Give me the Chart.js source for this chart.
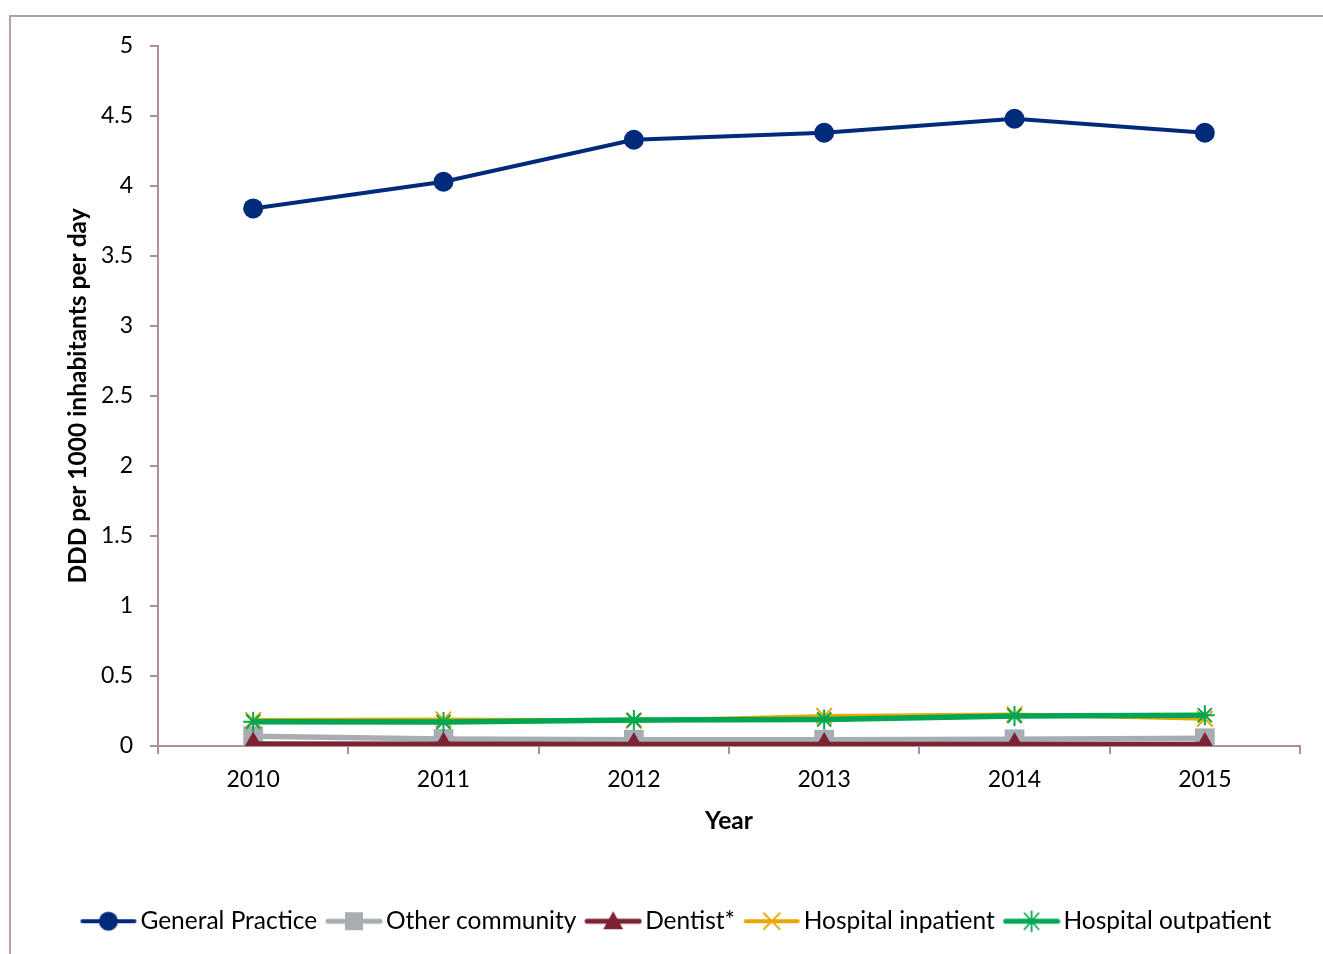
<!DOCTYPE html>
<html>
<head>
<meta charset="utf-8">
<script src="https://cdn.jsdelivr.net/npm/chart.js@4"></script>
<style>
  html, body { margin: 0; padding: 0; background: #fff; }
  #wrap { position: relative; width: 1323px; height: 954px; }
  #frame { position: absolute; left: 9px; top: 15px; width: 1400px; height: 1000px;
           border-top: 2px solid #b99ea4; border-left: 2px solid #b99ea4; box-sizing: border-box; }
  canvas { position: absolute; left: 0; top: 0; }
</style>
</head>
<body>
<div id="wrap">
  <div id="frame"></div>
  <canvas id="c" width="1323" height="954"></canvas>
</div>
<script>
const years = ['2010', '2011', '2012', '2013', '2014', '2015'];
const generalPractice = [3.84, 4.03, 4.33, 4.38, 4.48, 4.38];
const otherCommunity = [0.07, 0.05, 0.045, 0.045, 0.048, 0.055];
const dentist = [0.015, 0.012, 0.01, 0.01, 0.01, 0.01];
const hospitalInpatient = [0.185, 0.19, 0.18, 0.215, 0.225, 0.195];
const hospitalOutpatient = [0.174, 0.172, 0.185, 0.19, 0.215, 0.22];
const yTicks = [0, 0.5, 1, 1.5, 2, 2.5, 3, 3.5, 4, 4.5, 5];

const FONT = 'Lato, "Open Sans", sans-serif';
const AXIS = '#b38d95';

function legendIcon(color, lineW, drawMarker) {
  const c = document.createElement('canvas');
  c.width = 58; c.height = 24;
  const g = c.getContext('2d');
  g.strokeStyle = color; g.lineWidth = lineW; g.lineCap = 'round';
  g.beginPath(); g.moveTo(3, 12); g.lineTo(55, 12); g.stroke();
  drawMarker(g, 29, 12);
  return c;
}
const icons = [
  legendIcon('#012a7a', 4, (g, x, y) => { g.fillStyle = '#012a7a'; g.beginPath(); g.arc(x, y, 9.5, 0, Math.PI * 2); g.fill(); }),
  legendIcon('#a6aeb3', 5, (g, x, y) => { g.fillStyle = '#a6aeb3'; g.fillRect(x - 9, y - 9, 18, 18); }),
  legendIcon('#7d2233', 5, (g, x, y) => { g.fillStyle = '#7d2233'; g.beginPath(); g.moveTo(x, y - 10); g.lineTo(x + 10, y + 8); g.lineTo(x - 10, y + 8); g.closePath(); g.fill(); }),
  legendIcon('#e9a800', 4, (g, x, y) => { g.strokeStyle = '#e9a800'; g.lineWidth = 1.8; g.beginPath(); g.moveTo(x - 8, y - 8); g.lineTo(x + 8, y + 8); g.moveTo(x + 8, y - 8); g.lineTo(x - 8, y + 8); g.stroke(); }),
  legendIcon('#00a651', 5, (g, x, y) => { g.strokeStyle = '#00a651'; g.lineWidth = 1.8; g.beginPath(); g.moveTo(x - 7, y - 8); g.lineTo(x + 7, y + 8); g.moveTo(x + 7, y - 8); g.lineTo(x - 7, y + 8); g.moveTo(x, y - 10); g.lineTo(x, y + 10); g.stroke(); })
];

const datasets = [
  { label: 'General Practice', data: generalPractice, borderColor: '#012a7a', backgroundColor: '#012a7a',
    borderWidth: 4, pointStyle: 'circle', pointRadius: 10, pointBorderWidth: 0, order: 5 },
  { label: 'Other community', data: otherCommunity, borderColor: '#a6aeb3', backgroundColor: '#a6aeb3',
    borderWidth: 5.5, pointStyle: 'rect', pointRadius: 14, pointBorderWidth: 0, order: 4 },
  { label: 'Dentist*', data: dentist, borderColor: '#7d2233', backgroundColor: '#7d2233',
    borderWidth: 5.5, pointStyle: 'triangle', pointRadius: 12.5, pointBorderWidth: 0, order: 3 },
  { label: 'Hospital inpatient', data: hospitalInpatient, borderColor: '#e9a800', backgroundColor: '#e9a800',
    borderWidth: 4, pointStyle: 'crossRot', pointRadius: 11, pointBorderWidth: 2, order: 2 },
  { label: 'Hospital outpatient', data: hospitalOutpatient, borderColor: '#00a651', backgroundColor: '#00a651',
    borderWidth: 5.5, pointStyle: 'star', pointRadius: 10, pointBorderWidth: 2, order: 1 }
];
datasets.forEach(d => { d.tension = 0; d.fill = false; d.pointHoverRadius = d.pointRadius; });

new Chart(document.getElementById('c'), {
  type: 'line',
  data: { labels: years, datasets: datasets },
  options: {
    responsive: false,
    animation: false,
    events: [],
    layout: { padding: { left: 60, right: 23, top: 46, bottom: 10.5 } },
    plugins: {
      tooltip: { enabled: false },
      legend: {
        position: 'bottom',
        labels: {
          usePointStyle: true,
          pointStyleWidth: 39.5,
          padding: 17,
          color: '#000',
          font: { family: FONT, size: 24.5 },
          generateLabels: (chart) => datasets.map((d, i) => ({
            text: d.label, pointStyle: icons[i], datasetIndex: i, fillStyle: d.borderColor,
            strokeStyle: d.borderColor, lineWidth: 0, hidden: false, fontColor: '#000'
          }))
        }
      }
    },
    scales: {
      x: {
        type: 'category',
        offset: true,
        afterFit: (s) => { s.height = 146; },
        grid: { display: true, drawOnChartArea: false, drawTicks: true, tickLength: 8, offset: true,
                color: AXIS, lineWidth: 2 },
        border: { display: true, color: AXIS, width: 2 },
        ticks: { color: '#000', font: { family: FONT, size: 23 }, padding: 12, maxRotation: 0 },
        title: { display: true, text: 'Year', color: '#000', font: { family: FONT, size: 24.5, weight: 'bold' },
                 padding: { top: 0, bottom: 56 } }
      },
      y: {
        min: 0, max: 5,
        afterFit: (s) => { s.width = 98; },
        afterBuildTicks: (s) => { s.ticks = yTicks.map(v => ({ value: v })); },
        grid: { display: true, drawOnChartArea: false, drawTicks: true, tickLength: 8, color: AXIS, lineWidth: 2 },
        border: { display: true, color: AXIS, width: 2 },
        ticks: { color: '#000', font: { family: FONT, size: 23 }, padding: 17,
                 callback: (v) => String(v) },
        title: { display: true, text: 'DDD per 1000 inhabitants per day', color: '#000',
                 font: { family: FONT, size: 24.5, weight: 'bold' }, padding: { top: 3.3, bottom: 0 } }
      }
    }
  }
});
</script>
</body>
</html>
